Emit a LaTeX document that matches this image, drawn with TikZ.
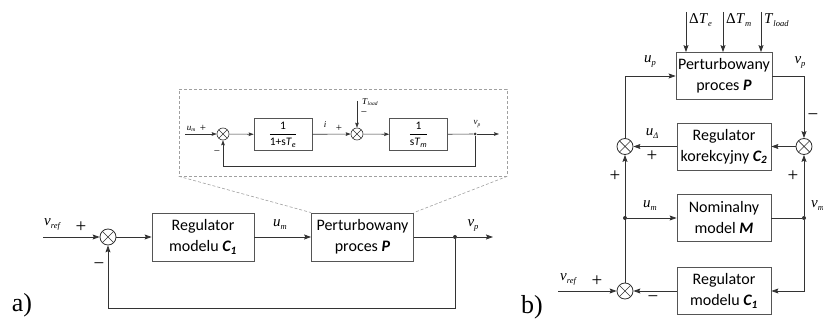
\documentclass[tikz,border=0pt]{standalone}
\usepackage{amsmath}
\usepackage{fontspec}
\setmainfont{Liberation Serif}
\newfontfamily\boxfont{Carlito}
\usetikzlibrary{arrows.meta}
\definecolor{wire}{HTML}{333333}
\definecolor{frame}{HTML}{555555}
\definecolor{haze}{HTML}{A0A0A0}
\newcommand{\lo}[1]{\raisebox{-3pt}{\fontsize{8.5}{9}\selectfont\itshape #1}}
\newcommand{\tlo}[1]{\raisebox{-1.5pt}{\fontsize{5.5}{6}\selectfont\itshape #1}}
\tikzset{
  blk/.style={rectangle, draw=frame, fill=white, line width=0.8pt, align=center,
              inner sep=2pt, minimum width=102pt, minimum height=48pt,
              font=\boxfont\fontsize{16}{21}\selectfont},
  blkb/.style={blk, minimum width=94pt, minimum height=47pt},
  tinyblk/.style={blk, minimum width=58pt, minimum height=32pt, line width=0.7pt,
              font=\boxfont\fontsize{11.5}{13}\selectfont},
  mixer/.style={circle, draw=wire, fill=white, line width=0.8pt, minimum size=16pt, inner sep=0pt,
              path picture={\draw[wire, line width=0.7pt]
                (path picture bounding box.north west) -- (path picture bounding box.south east)
                (path picture bounding box.north east) -- (path picture bounding box.south west);}},
  tinymixer/.style={mixer, minimum size=12pt, line width=0.6pt},
  joint/.style={circle, fill=wire, inner sep=0pt, minimum size=4pt},
  tinyjoint/.style={joint, minimum size=3pt},
  lbl/.style={font=\rmfamily\fontsize{15}{17}\selectfont, inner sep=0pt},
  sgn/.style={font=\rmfamily\fontsize{19}{20}\selectfont, inner sep=0pt},
  tinylbl/.style={font=\rmfamily\fontsize{9}{10}\selectfont, inner sep=0pt},
  tinysgn/.style={font=\rmfamily\fontsize{11}{12}\selectfont, inner sep=0pt},
  tag/.style={font=\rmfamily\fontsize{26}{28}\selectfont, inner sep=0pt},
  link/.style={draw=wire, line width=0.8pt},
  flow/.style={-{Stealth[length=7pt, width=5pt, inset=1.2pt]}, draw=wire, line width=0.8pt},
  tinyflow/.style={-{Stealth[length=5pt, width=3.6pt, inset=0.8pt]}, draw=wire, line width=0.6pt},
  zoomline/.style={draw=haze, line width=0.6pt, dash pattern=on 3pt off 2pt}
}

\begin{document}
\begin{tikzpicture}[x=1pt, y=-1pt]
  \useasboundingbox (0,0) rectangle (823,326);

  % a) main loop
  \coordinate (inA) at (43,237);
  \node[mixer] (sumA) at (108,237) {};
  \node[blk] (regA) at (203,237) {Regulator\\modelu \textbf{\textit{C\textsubscript{1}}}};
  \node[blk] (procA) at (362.5,237) {Perturbowany\\proces \textbf{\textit{P}}};
  \node[joint] (dotA) at (455,237) {};
  \coordinate (outA) at (493,237);
  \node[lbl] (vrefA) at (52,224) {\textit{v}\lo{ref}};
  \node[sgn] (plusA) at (81,227) {+};
  \node[sgn] (minusA) at (99,266) {−};
  \node[lbl] (umA) at (280,225) {\textit{u}\lo{m}};
  \node[lbl] (vpA) at (473,225) {\textit{v}\lo{p}};
  \node[tag] (tagA) at (22,305) {a)};

  \draw[flow] (inA) -- (sumA);
  \draw[flow] (sumA) -- (regA);
  \draw[flow] (regA) -- (procA);
  \draw[link] (procA) -- (dotA);
  \draw[flow] (dotA) -- (outA);
  \draw[flow] (dotA) -- ++(0,71) -| (sumA);

  % a) zoomed process
  \node[draw=haze, line width=0.6pt, dash pattern=on 3pt off 2pt, minimum width=328pt,
        minimum height=87pt, inner sep=0pt] (inset) at (343,132.5) {};
  \draw[zoomline] (inset.south west) -- (procA.north west);
  \draw[zoomline] (inset.south east) -- (procA.north east);

  \coordinate (inI) at (185,134);
  \node[tinymixer] (sumI1) at (223,134) {};
  \node[tinyblk] (elec) at (283,134.5) {$\dfrac{\text{1}}{\text{1+s\textit{T}}_{\text{\textit{e}}}}$};
  \node[tinymixer] (sumI2) at (357,134) {};
  \coordinate (loadI) at (357,101);
  \node[tinyblk] (mech) at (418.5,134.5) {$\dfrac{\text{1}}{\text{s\textit{T}}_{\text{\textit{m}}}}$};
  \node[tinyjoint] (dotI) at (475,134) {};
  \coordinate (outI) at (499,134);
  \node[tinylbl] (umI) at (191,129) {\textit{u}\tlo{m}};
  \node[tinysgn] (plusI1) at (203,128) {+};
  \node[tinysgn] (minusI1) at (217,153) {−};
  \node[tinylbl] (curI) at (325,125) {\textit{i}};
  \node[tinysgn] (plusI2) at (339,128) {+};
  \node[tinylbl, anchor=west] (loadlblI) at (362,102) {\textit{T}\tlo{load}};
  \node[tinysgn] (minusI2) at (364,114) {−};
  \node[tinylbl] (vpI) at (477,124) {\textit{v}\tlo{p}};

  \draw[tinyflow] (inI) -- (sumI1);
  \draw[tinyflow] (sumI1) -- (elec);
  \draw[tinyflow] (elec) -- (sumI2);
  \draw[tinyflow] (loadI) -- (sumI2);
  \draw[tinyflow] (sumI2) -- (mech);
  \draw[draw=wire, line width=0.6pt] (mech) -- (dotI);
  \draw[tinyflow] (dotI) -- (outI);
  \draw[tinyflow] (dotI) -- ++(0,32) -| (sumI1);

  % b) model-following structure
  \node[blkb] (procB) at (724,76) {Perturbowany\\proces \textbf{\textit{P}}};
  \node[blkb] (korB) at (724,146.5) {Regulator\\korekcyjny \textbf{\textit{C\textsubscript{2}}}};
  \node[blkb] (nomB) at (724,218) {Nominalny\\model \textbf{\textit{M}}};
  \node[blkb] (regB) at (724,291) {Regulator\\modelu \textbf{\textit{C\textsubscript{1}}}};
  \node[mixer] (sumB1) at (625,291) {};
  \node[mixer] (sumB2) at (625,146.5) {};
  \node[mixer] (sumB3) at (804,146.5) {};
  \node[joint] (dotB1) at (625,218) {};
  \node[joint] (dotB2) at (804,218) {};
  \coordinate (inB) at (558,291);
  \coordinate (dTe) at (686,12);
  \coordinate (dTm) at (723,12);
  \coordinate (dTl) at (761,12);
  \node[lbl, anchor=west] (dTelbl) at (689,20) {Δ\textit{T}\lo{e}};
  \node[lbl, anchor=west] (dTmlbl) at (726,20) {Δ\textit{T}\lo{m}};
  \node[lbl, anchor=west] (dTllbl) at (764,20) {\textit{T}\lo{load}};
  \node[lbl] (upB) at (650,61) {\textit{u}\lo{p}};
  \node[lbl] (vpB) at (800,62) {\textit{v}\lo{p}};
  \node[sgn] (minusB3) at (813,117) {−};
  \node[lbl] (udB) at (652,134) {\textit{u}\lo{Δ}};
  \node[sgn] (plusB2a) at (652,156) {+};
  \node[sgn] (plusB2b) at (615,176) {+};
  \node[sgn] (plusB3) at (793,176) {+};
  \node[lbl] (umB) at (650,206) {\textit{u}\lo{m}};
  \node[lbl, anchor=west] (vmB) at (811,206) {\textit{v}\lo{m}};
  \node[sgn] (minusB1) at (653,299) {−};
  \node[lbl] (vrefB) at (568,279) {\textit{v}\lo{ref}};
  \node[sgn] (plusB1) at (597,281) {+};
  \node[tag] (tagB) at (532,307) {b)};

  \draw[flow] (dTe) -- (dTe |- procB.north);
  \draw[flow] (dTm) -- (dTm |- procB.north);
  \draw[flow] (dTl) -- (dTl |- procB.north);
  \draw[flow] (inB) -- (sumB1);
  \draw[flow] (sumB1) -- (sumB2);
  \draw[flow] (sumB2) |- (procB);
  \draw[flow] (procB) -| (sumB3);
  \draw[flow] (sumB3) -- (korB);
  \draw[flow] (korB) -- (sumB2);
  \draw[flow] (dotB1) -- (nomB);
  \draw[link] (nomB) -- (dotB2);
  \draw[flow] (dotB2) -- (sumB3);
  \draw[flow] (dotB2) |- (regB);
  \draw[flow] (regB) -- (sumB1);
\end{tikzpicture}
\end{document}
